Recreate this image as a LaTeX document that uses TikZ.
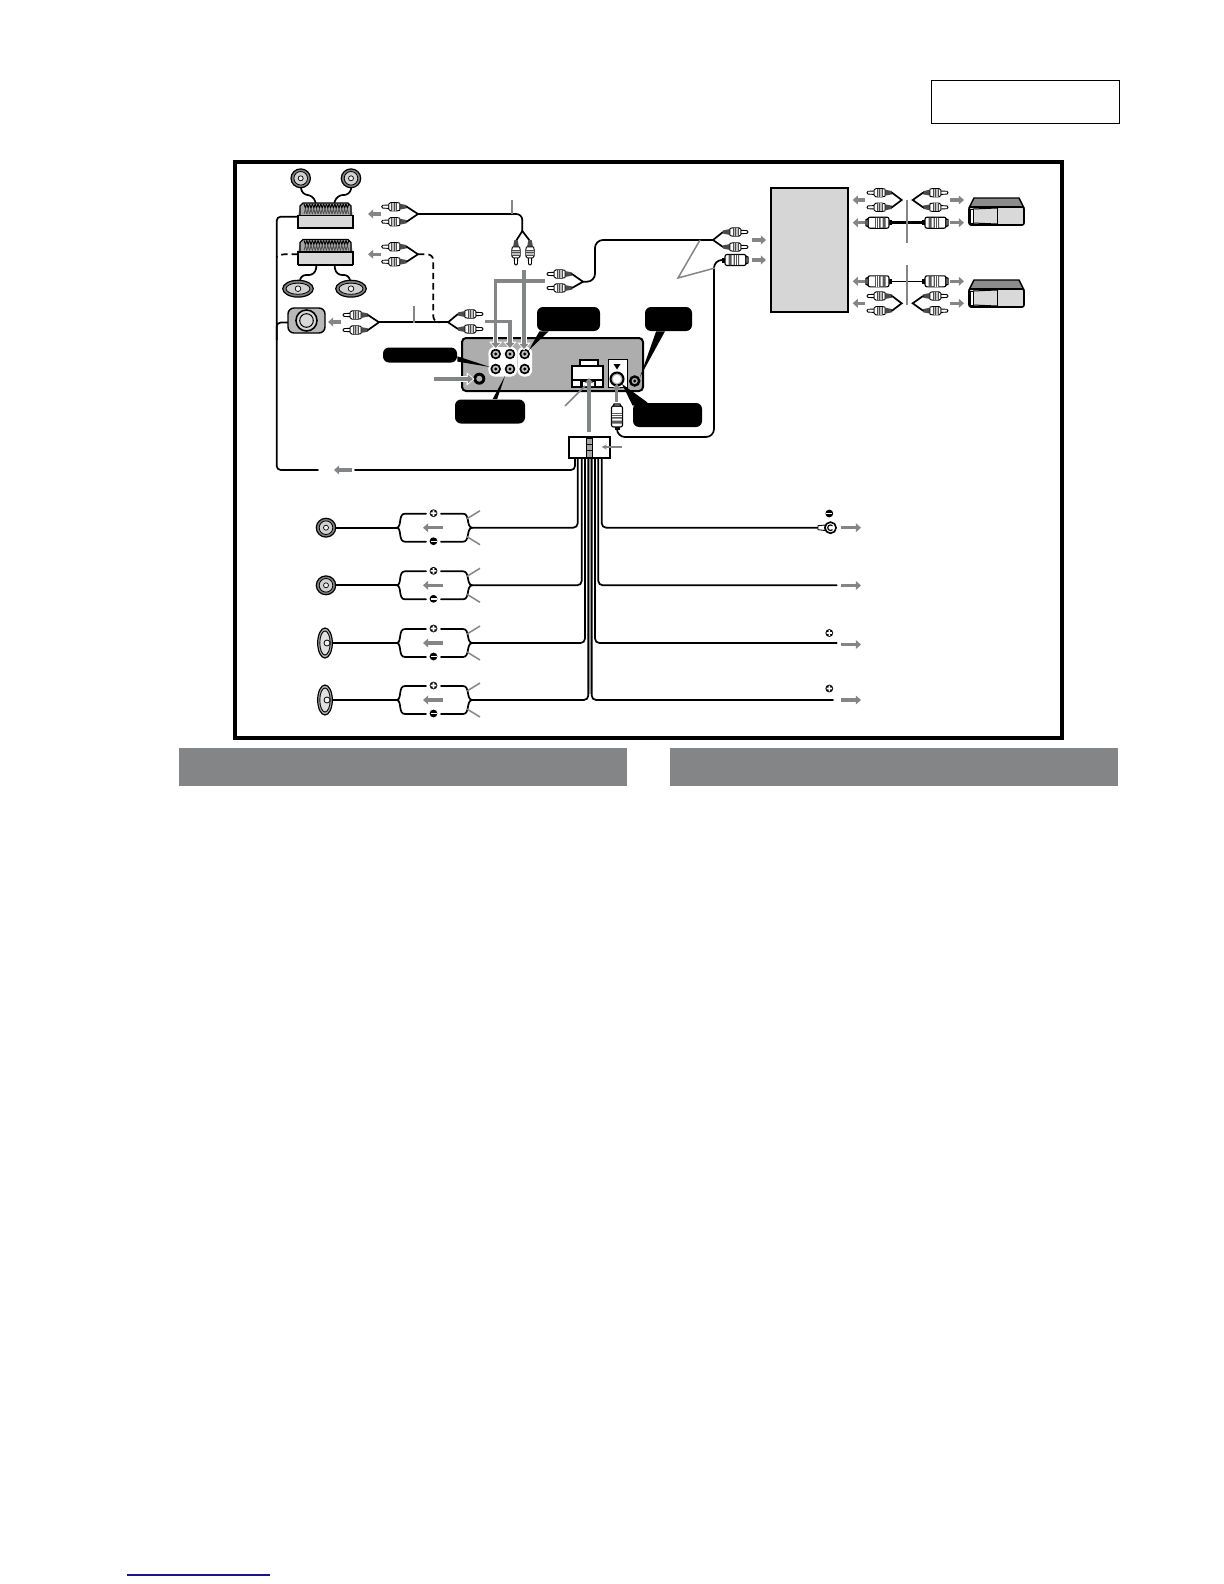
\documentclass[tikz,border=0pt]{standalone}
\usetikzlibrary{arrows.meta}
\definecolor{arrowgray}{HTML}{848587}
\definecolor{bargray}{HTML}{848587}
\definecolor{unitgray}{gray}{0.68}
\definecolor{panelgray}{gray}{0.84}
\definecolor{linkblue}{HTML}{14148C}
\tikzset{
  wire/.style={line width=0.85pt,black,line cap=round},
  dashwire/.style={line width=0.85pt,black,dash pattern=on 3.2pt off 2pt},
  thickwire/.style={line width=1.3pt,black},
  leader/.style={line width=0.75pt,arrowgray},
  gar/.style={line width=1.7pt,arrowgray,-{Triangle[length=2.6pt,width=4.4pt]}},
  garline/.style={line width=1.7pt,arrowgray},
  garwhite/.style={line width=2.7pt,white,-{Triangle[length=4pt,width=6.4pt]}},
  pillbox/.style={fill=black,rounded corners=3pt,inner sep=0pt},
  rcap/.pic={
    \fill[black!70] (0,-1.6) -- (7,-3) -- (7,3) -- (0,1.6) -- cycle;
    \draw[line width=0.45pt,fill=white] (7,-3.6) -- (10,-4.2) -- (16,-4.2) -- (18,-2.6) -- (18,2.6) -- (16,4.2) -- (10,4.2) -- (7,3.6) -- cycle;
    \fill[black!25] (10,-4) rectangle (15,4);
    \draw[line width=0.3pt,black!70] (10,-4) -- (10,4) (12.5,-4) -- (12.5,4) (15,-4) -- (15,4);
    \draw[line width=0.45pt,fill=white] (18,-1.7) -- (24,-1.4) -- (25,0) -- (24,1.4) -- (18,1.7) -- cycle;
  },
  thickp/.pic={
    \fill[black] (0,-2.5) rectangle (4,2.5);
    \draw[line width=0.55pt,fill=white,rounded corners=1pt] (3,-5.5) rectangle (24,5.5);
    \fill[black!65] (6.5,-5.2) rectangle (9.5,5.2) (11.5,-5.2) rectangle (17,5.2);
    \draw[line width=0.35pt,white] (13.3,-5.2) -- (13.3,5.2) (15.2,-5.2) -- (15.2,5.2);
    \draw[line width=0.55pt,fill=white] (24,-4) -- (26,-3) -- (26,3) -- (24,4) -- cycle;
  },
  roundspk/.pic={
    \draw[line width=0.6pt,fill=black!50] (0,0) circle [x radius=9.7,y radius=9.4];
    \draw[line width=0.4pt,fill=black!18] (0,0) circle [radius=6.8];
    \draw[line width=0.35pt,fill=black!5] (0,0) circle [radius=2.5];
  },
  ovalspkh/.pic={
    \draw[line width=0.6pt,fill=black!50] (0,0) circle [x radius=15.3,y radius=8.4];
    \draw[line width=0.4pt,fill=black!18] (0,0) circle [x radius=12,y radius=5.6];
    \draw[line width=0.35pt,fill=black!5] (0,0) circle [radius=2.8];
  },
  ovalspkv/.pic={
    \draw[line width=0.6pt,fill=black!30] (0,0) circle [x radius=7.3,y radius=15];
    \draw[line width=0.45pt,fill=black!12] (0,0) circle [x radius=5.2,y radius=12];
    \draw[line width=0.4pt,fill=black!5] (2,0) circle [radius=3];
  },
  ampbox/.pic={
    \fill[black!35] (0,13) -- (2,3) -- (5,0) -- (50,0) -- (53,3) -- (55,13) -- cycle;
    \draw[line width=0.55pt,black] (2,12) -- (2,3) -- (5,0) -- (50,0) -- (53,3) -- (53,12);
    \foreach \k in {0,...,15}{
      \draw[line width=0.5pt,black] ({6+\k*2.8},1) -- ({7.4+\k*2.8},5) -- ({8.8+\k*2.8},1);
      \draw[line width=0.4pt,black!70] ({6+\k*2.8},11) -- ({7.4+\k*2.8},6) -- ({8.8+\k*2.8},11);
    }
    \draw[line width=0.75pt,fill=black!15] (0,12.5) rectangle (55,25);
    \draw[line width=1pt] (0,25) -- (55,25);
  },
  jackpic/.pic={
    \fill[white] (0,0) circle [radius=7.3];
    \fill[black] (0,0) circle [radius=5.3];
    \fill[black!25] (0,0) circle [radius=3.4];
    \fill[black] (0,0) circle [radius=1.6];
  },
  changer/.pic={
    \draw[line width=0.7pt,fill=black!45,line join=round] (0,10) -- (5,0) -- (50,0) -- (55,10) -- cycle;
    \draw[line width=0.8pt,fill=black!15,rounded corners=1pt] (0,9) rectangle (55,27);
    \draw[line width=0.5pt] (28,9) -- (28,27);
    \draw[line width=0.5pt,fill=white] (1,11) rectangle (4,25);
    \draw[line width=0.5pt] (4,11) -- (28,10) (4,25) -- (28,26);
  },
  plussym/.pic={
    \fill[black] (0,0) circle [radius=3.9];
    \fill[white] (-2.8,-0.8) rectangle (2.8,0.8) (-0.8,-2.8) rectangle (0.8,2.8);
  },
  minussym/.pic={
    \fill[black] (0,0) circle [radius=3.9];
    \fill[white] (-3,-0.7) rectangle (3,0.7);
  },
}
\begin{document}
\begin{tikzpicture}[x=0.5pt,y=-0.5pt]
\useasboundingbox (0,0) rectangle (1224,1584);
\fill[white] (0,0) rectangle (1224,1584);

% page furniture
\draw[line width=0.42pt] (931,80.5) rectangle (1119,123);
\draw[line width=2pt] (235,161.5) rectangle (1062,737.5);
\fill[bargray] (179,748) rectangle (627,786);
\fill[bargray] (670,748) rectangle (1118,786);
\draw[line width=0.55pt,color=linkblue] (127,1575) -- (270,1575);

% named points of the wiring
\coordinate (splitA) at (418,214);
\coordinate (splitAr) at (522.3,231);
\coordinate (splitB) at (418,254.3);
\coordinate (splitC) at (379,322.3);
\coordinate (splitD) at (448,322.3);
\coordinate (splitE) at (583,281.7);
\coordinate (splitF) at (713,240);

% left bus
\draw[wire,rounded corners=2pt] (298,216.7) -- (276.7,216.7) -- (276.7,470) -- (318,470);
\draw[wire,rounded corners=2pt] (355,470) -- (575,470) -- (575,458);
\draw[wire,rounded corners=2pt] (288,322.5) -- (276.7,322.5) -- (276.7,340);
\draw[dashwire,rounded corners=2pt] (298,254.3) -- (280,254.3) -- (276.7,257);
\draw[gar] (352,470) -- (334,470);

% amplifiers and speakers
\draw[wire,rounded corners=3pt] (300.7,185) -- (302,195) -- (313,195) -- (316,204);
\draw[wire,rounded corners=3pt] (351.7,185) -- (350,195) -- (337,195) -- (334,204);
\draw[wire,rounded corners=3pt] (316.7,264) -- (315,275) -- (300,275) -- (300,282);
\draw[wire,rounded corners=3pt] (334.3,264) -- (336,275) -- (350,275) -- (350,282);
\pic at (300.7,178.3) {roundspk};
\pic at (351,178.3) {roundspk};
\pic at (298,203) {ampbox};
\pic at (298,239.5) {ampbox};
\pic at (298,288.7) {ovalspkh};
\pic at (351,288.7) {ovalspkh};
\node[draw=black,line width=0.7pt,fill=black!28,rounded corners=3pt,minimum width=18.5pt,minimum height=12.5pt,inner sep=0pt] (subamp) at (306.5,320.5) {};
\draw[line width=0.8pt,fill=black!15] (subamp.center) circle [radius=10.5];
\draw[line width=0.5pt,fill=black!15] (subamp.center) circle [radius=6.8];

% RCA cables, left
\pic[rotate=180] at (406.7,206.7) {rcap};
\pic[rotate=180] at (406.7,221.7) {rcap};
\draw[wire] (406.7,206.7) -- (splitA) -- (406.7,221.7);
\draw[wire,rounded corners=3pt] (splitA) -- (522.3,214) -- (splitAr);
\draw[wire] (516,241) -- (splitAr) -- (530,241);
\pic[rotate=-90] at (516,240) {rcap};
\pic[rotate=-90] at (530,240) {rcap};
\draw[leader] (512,200) -- (512,214);
\draw[gar] (381,214) -- (368,214);

\pic[rotate=180] at (406.7,246.7) {rcap};
\pic[rotate=180] at (406.7,261.7) {rcap};
\draw[wire] (406.7,246.7) -- (splitB) -- (406.7,261.7);
\draw[dashwire,rounded corners=3pt] (splitB) -- (433.3,254.3) -- (433.3,322.3) -- (440,322.3);
\draw[gar] (381,254.3) -- (368,254.3);

\pic[rotate=180] at (368,315) {rcap};
\pic[rotate=180] at (368,330) {rcap};
\draw[wire] (368,315) -- (splitC) -- (368,330);
\draw[wire] (splitC) -- (splitD);
\draw[wire] (458,314) -- (splitD) -- (458,329);
\pic at (458,314) {rcap};
\pic at (458,329) {rcap};
\draw[leader] (414,306) -- (414,323);
\draw[gar] (341,322) -- (328,322);

% head unit
\node[draw=black,line width=1pt,fill=unitgray,rounded corners=2pt,minimum width=90.5pt,minimum height=26.5pt,inner sep=0pt] (unit) at (552.5,364.5) {};
\fill[white,rounded corners=3pt] (488.5,347) rectangle (517,376.5);
\fill[white,rounded corners=3pt] (517.5,347) rectangle (532,376.5);
\foreach \jx in {495.7,510,524.7}{
  \pic at (\jx,354) {jackpic};
  \pic at (\jx,369) {jackpic};
}
\coordinate (jackE) at (490,367);
\coordinate (jackA) at (529,350);
\coordinate (jackC) at (505,376);
\coordinate (jackB) at (640,377);
\coordinate (jackD) at (622,384);

\fill[black] (479.3,378.7) circle [radius=6];
\fill[black!30] (479.3,378.7) circle [radius=3];

% socket
\draw[line width=0.7pt,fill=white] (580,360) rectangle (598,366);
\draw[line width=1pt,fill=white] (572,365.5) rectangle (603,387);
\fill[black] (572,379) rectangle (603,381);
\fill[black] (580,380) rectangle (596,386);
\fill[white] (583,382) rectangle (587,386) (590,382) rectangle (594,386);

% antenna socket
\draw[line width=0.5pt,fill=white] (608,359) rectangle (627,387);
\fill[black] (613.5,364) -- (620.5,364) -- (617,369.5) -- cycle;
\draw[line width=1pt,fill=black!30] (617,379) circle [radius=6.5];
\fill[white] (617,379) circle [radius=4.2];
\draw[line width=1.2pt,fill=black!30] (634.7,381) circle [radius=4.5];
\fill[black] (634.7,381) circle [radius=1.6];

% callouts
\node[pillbox,minimum width=37pt,minimum height=7.5pt] (pE) at (420,355) {};
\node[pillbox,minimum width=31.5pt,minimum height=12pt] (pA) at (568.5,319) {};
\node[pillbox,minimum width=23.5pt,minimum height=12pt] (pB) at (668.5,319) {};
\node[pillbox,minimum width=35pt,minimum height=12pt] (pC) at (490,411.5) {};
\node[pillbox,minimum width=34.5pt,minimum height=12pt] (pD) at (667.5,415) {};
\fill[black] (pE.-2) -- (jackE) -- (pE.-10) -- cycle;
\fill[black] (pA.-157) -- (jackA) -- (pA.-148) -- cycle;
\fill[black] (pB.-135) -- (jackB) -- (pB.-106) -- cycle;
\fill[black] (pC.60) -- (jackC) -- (pC.78) -- cycle;
\fill[black] (pD.165) -- (jackD) -- (pD.148) -- cycle;

% grey arrows into the unit
\draw[garwhite] (455,379) -- (474.5,379);
\draw[garwhite] (495.7,335) -- (495.7,349.5);
\draw[garwhite] (510,335) -- (510,349.5);
\draw[garwhite] (524,335) -- (524,350.5);
\draw[gar] (434,379) -- (473,379);
\draw[garline] (545,281) -- (495.7,281) -- (495.7,330);
\draw[gar] (495.7,325) -- (495.7,348);
\draw[garline] (485,321.7) -- (510,321.7) -- (510,330);
\draw[gar] (510,325) -- (510,348);
\draw[gar] (524,270) -- (524,349);
\draw[gar] (589,432) -- (589,378);
\draw[gar] (616.7,402) -- (616.7,384);
\draw[leader] (565,406) -- (585,386);

% cable to the unit's output
\pic[rotate=180] at (572,274) {rcap};
\pic[rotate=180] at (572,288) {rcap};
\draw[wire] (572,274) -- (splitE) -- (572,288);
\draw[wire,rounded corners=4pt] (splitE) -- (595,281.7) -- (595,240) -- (splitF);
\draw[wire] (723,232) -- (splitF) -- (723,247);
\pic at (723,232) {rcap};
\pic at (723,247) {rcap};

% antenna plug and cable
\draw[wire,rounded corners=4pt] (617,428) -- (617,437) -- (714,437) -- (714,260) -- (723,260);
\pic[rotate=90] at (617,430) {thickp};
\pic at (722,260) {thickp};
\draw[leader] (700,240) -- (678,278) -- (715,268);

% panel and changers
\node[draw=black,line width=0.85pt,fill=panelgray,minimum width=38.5pt,minimum height=62pt,inner sep=0pt] (panel) at (809.5,250) {};
\draw[gar] (752,240) -- (766,240);
\draw[gar] (752,260) -- (766,260);
\pic at (969,198) {changer};
\pic at (969,280) {changer};

% upper changer cables
\pic[rotate=180] at (892,192.7) {rcap};
\pic[rotate=180] at (892,207.3) {rcap};
\pic at (923,192.7) {rcap};
\pic at (923,207.3) {rcap};
\coordinate (sU1) at (901.7,200);
\coordinate (sU2) at (912.7,200);
\draw[wire] (892,192.7) -- (sU1) -- (892,207.3);
\draw[wire] (923,192.7) -- (sU2) -- (923,207.3);
\draw[thickwire] (892,222.7) -- (922,222.7);
\pic[rotate=180] at (892,222.7) {thickp};
\pic at (922,222.7) {thickp};
\draw[leader] (907,200) -- (907,243);

% lower changer cables
\draw[wire,line width=0.5pt] (892,281.3) -- (922,281.3);
\pic[rotate=180] at (892,281.3) {thickp};
\pic at (922,281.3) {thickp};
\pic[rotate=180] at (892,296) {rcap};
\pic[rotate=180] at (892,310.7) {rcap};
\pic at (923,296) {rcap};
\pic at (923,310.7) {rcap};
\coordinate (sL1) at (901.7,303.3);
\coordinate (sL2) at (912.7,303.3);
\draw[wire] (892,296) -- (sL1) -- (892,310.7);
\draw[wire] (923,296) -- (sL2) -- (923,310.7);
\draw[leader] (907,265) -- (907,305);

\foreach \gy in {200,222.7,281.3,303.3}{
  \draw[gar] (865,\gy) -- (852.7,\gy);
  \draw[gar] (950,\gy) -- (964,\gy);
}

% harness
\fill[black!35] (588.3,458) rectangle (591.7,694);
\foreach \by/\lx/\rx/\ex in {527.7/577.7/601.7/822,585.3/581.7/598.3/836.7,643/585/595/836.7,700/588.3/591.7/833}{
  \draw[wire,rounded corners=2.2pt] (\lx,458) -- (\lx,\by) -- (472,\by);
  \draw[wire,rounded corners=2.2pt] (\rx,458) -- (\rx,\by) -- (\ex,\by);
}
\draw[line width=0.5pt] (578,458) -- (602,458);
\node[draw=black,line width=1pt,fill=white,minimum width=20.5pt,minimum height=10.5pt,inner sep=0pt] (plugmain) at (589,447.5) {};
\fill[black!35] (586,438.5) rectangle (592,456.5);
\draw[line width=0.45pt] (586,438) rectangle (592,457) (586,444) -- (592,444) (586,450) -- (592,450);
\draw[leader,-{Stealth[length=2.5pt,width=2.5pt]}] (621.7,447) -- (601.7,447);

% ring terminal
\draw[line width=0.45pt,fill=white] (818,525.7) -- (825,525) -- (825,530.5) -- (818,529.7) -- cycle;
\draw[line width=0.8pt,fill=white] (830.5,527.7) circle [radius=5.6];
\draw[line width=0.6pt] (832.5,529.7) arc[start angle=45,end angle=315,radius=2.8];

% speaker rows
\foreach \sy/\spk/\sx in {527.7/roundspk/326,585.3/roundspk/326,643/ovalspkv/325,700/ovalspkv/325}{
  \draw[wire] (\sx,\sy) -- (397,\sy);
  \pic at (\sx,\sy) {\spk};
  \draw[wire] (426,\sy-14) -- (405,\sy-14) .. controls (398,\sy-14) and (402,\sy-1) .. (397,\sy) .. controls (402,\sy+1) and (398,\sy+14) .. (405,\sy+14) -- (426,\sy+14);
  \draw[wire] (441,\sy-14) -- (463,\sy-14) .. controls (470,\sy-14) and (466,\sy-1) .. (472,\sy) .. controls (466,\sy+1) and (470,\sy+14) .. (463,\sy+14) -- (441,\sy+14);
  \pic at (433.5,\sy-14.5) {plussym};
  \pic at (433.5,\sy+13.5) {minussym};
  \draw[gar] (443,\sy) -- (423,\sy);
  \draw[leader] (467,\sy-9) -- (480,\sy-17);
  \draw[leader] (467,\sy+9) -- (480,\sy+17);
}

% right side symbols and arrows
\pic at (829.3,513.5) {minussym};
\pic at (829.3,633) {plussym};
\pic at (829.3,688.5) {plussym};
\foreach \ay in {527.7,585.5,644.5,700}{
  \draw[gar] (841,\ay) -- (861,\ay);
}
\end{tikzpicture}
\end{document}
